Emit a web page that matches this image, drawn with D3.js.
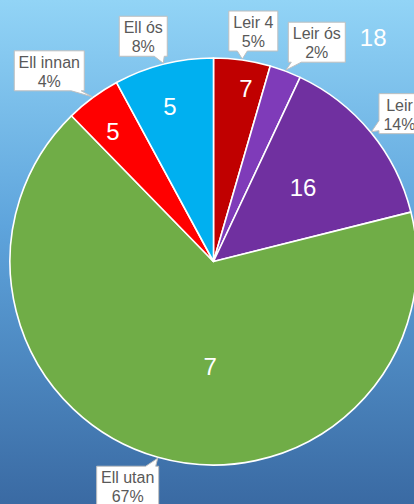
<!DOCTYPE html>
<html>
<head>
<meta charset="utf-8">
<script src="https://cdn.jsdelivr.net/npm/d3@7"></script>
<style>
  html, body { margin: 0; padding: 0; overflow: hidden; }
  svg { display: block; font-family: "Liberation Sans", Arial, sans-serif; }
</style>
</head>
<body>
<svg id="chart" width="414" height="504"></svg>
<script>
// slices, clockwise from 12 o'clock
const categories = ["Leir 4", "Leir ós", "Leir", "Ell utan", "Ell innan", "Ell ós"];
const shares = [4.5, 2.5, 14.1, 66.6, 4.4, 7.9];
const percentLabels = ["5%", "2%", "14%", "67%", "4%", "8%"];
const counts = ["7", "18", "16", "7", "5", "5"];
const colors = ["#c00000", "#7f3bb9", "#7030a0", "#70ad47", "#ff0000", "#00b0f0"];

const W = 414, H = 504;
const cx = 213.5, cy = 261.5, radius = 203.5;

// callout box centre offsets from the pointer tip, and count label placement
const callout = [
  { dx: 11, dy: -28 },
  { dx: 31, dy: -28 },
  { dx: 28, dy: -18 },
  { dx: -30, dy: 28 },
  { dx: -43, dy: -26 },
  { dx: -20, dy: -27 }
];
const countPos = [
  { r: 176, da: 2.5 },
  { r: 275, da: 14.8 },
  { r: 116, da: 0 },
  { r: 105, da: -14 },
  { r: 164, da: -1.5 },
  { r: 161, da: -1.5 }
];

const svg = d3.select("#chart");

const grad = svg.append("defs").append("linearGradient")
  .attr("id", "bg").attr("x1", 0).attr("y1", 0).attr("x2", 0).attr("y2", 1);
grad.append("stop").attr("offset", "0%").attr("stop-color", "#92d4f6");
grad.append("stop").attr("offset", "45%").attr("stop-color", "#5ea4dc");
grad.append("stop").attr("offset", "100%").attr("stop-color", "#3a6aa3");

svg.append("rect").attr("width", W).attr("height", H).attr("fill", "url(#bg)");

const pie = d3.pie().sort(null).value(d => d);
const arcs = pie(shares);

const arc = d3.arc().innerRadius(0).outerRadius(radius);

const g = svg.append("g").attr("transform", `translate(${cx},${cy})`);

g.selectAll("path.slice")
  .data(arcs)
  .enter()
  .append("path")
  .attr("class", "slice")
  .attr("d", arc)
  .attr("fill", (d, i) => colors[i])
  .attr("stroke", "#fff")
  .attr("stroke-width", 1.6)
  .attr("stroke-linejoin", "round");

// count labels
const toRad = Math.PI / 180;
g.selectAll("text.count")
  .data(arcs)
  .enter()
  .append("text")
  .attr("class", "count")
  .attr("x", (d, i) => {
    const a = (d.startAngle + d.endAngle) / 2 + countPos[i].da * toRad;
    return Math.sin(a) * countPos[i].r;
  })
  .attr("y", (d, i) => {
    const a = (d.startAngle + d.endAngle) / 2 + countPos[i].da * toRad;
    return -Math.cos(a) * countPos[i].r;
  })
  .attr("dy", "0.35em")
  .attr("text-anchor", "middle")
  .attr("fill", "#fff")
  .attr("font-size", 24)
  .text((d, i) => counts[i]);

// callout data labels
const edge = d3.arc().innerRadius(radius + 1).outerRadius(radius + 1);
const labels = g.append("g");

arcs.forEach((d, i) => {
  const [tx, ty] = edge.centroid(d);
  const lab = labels.append("g");
  const txt = lab.append("text")
    .attr("text-anchor", "middle")
    .attr("fill", "#595959")
    .attr("font-size", 16);
  txt.append("tspan").attr("x", 0).attr("dy", 0).text(categories[i]);
  txt.append("tspan").attr("x", 0).attr("dy", 19).text(percentLabels[i]);

  let tw = 0;
  txt.selectAll("tspan").each(function () {
    tw = Math.max(tw, this.getComputedTextLength());
  });
  const bw = Math.round(tw + 9), bh = 40;
  const bx = tx + callout[i].dx - bw / 2;
  const by = ty + callout[i].dy - bh / 2;

  let p;
  if (ty > by + bh) {
    const bc = Math.max(bx + 8, Math.min(bx + bw - 8, tx));
    p = `M${bx},${by}H${bx + bw}V${by + bh}H${bc + 5}L${tx},${ty}L${bc - 5},${by + bh}H${bx}Z`;
  } else if (ty < by) {
    const bc = Math.max(bx + 8, Math.min(bx + bw - 8, tx));
    p = `M${bx},${by}H${bc - 5}L${tx},${ty}L${bc + 5},${by}H${bx + bw}V${by + bh}H${bx}Z`;
  } else if (tx < bx) {
    const bc = Math.max(by + 8, Math.min(by + bh - 8, ty));
    p = `M${bx},${by}H${bx + bw}V${by + bh}H${bx}V${bc + 5}L${tx},${ty}L${bx},${bc - 5}Z`;
  } else {
    const bc = Math.max(by + 8, Math.min(by + bh - 8, ty));
    p = `M${bx},${by}H${bx + bw}V${bc - 5}L${tx},${ty}L${bx + bw},${bc + 5}V${by + bh}H${bx}Z`;
  }
  lab.insert("path", "text")
    .attr("d", p)
    .attr("fill", "#fff")
    .attr("stroke", "#bfbfbf")
    .attr("stroke-width", 1);

  txt.attr("transform", `translate(${bx + bw / 2},${by + 17})`);
});
</script>
</body>
</html>
